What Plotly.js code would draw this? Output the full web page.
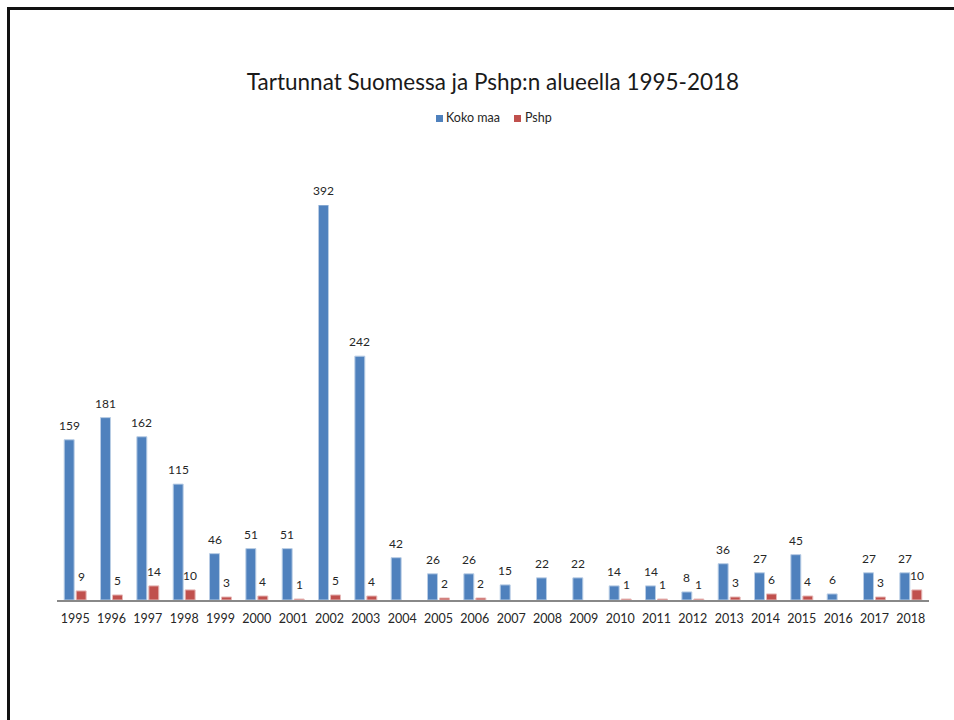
<!DOCTYPE html>
<html>
<head>
<meta charset="utf-8">
<script src="https://cdn.plot.ly/plotly-3.0.1.min.js"></script>
<style>
  html, body { margin: 0; padding: 0; background: #fff; }
  #wrap { position: relative; width: 954px; height: 720px; overflow: hidden; }
  #chart { position: absolute; left: 0; top: 0; width: 954px; height: 720px; }
  #frame { position: absolute; left: 7px; top: 7px; width: 1000px; height: 800px;
           border-left: 3px solid #111; border-top: 3px solid #111; pointer-events: none; }
</style>
</head>
<body>
<div id="wrap">
  <div id="chart"></div>
  <div id="frame"></div>
</div>
<script>
const years = ["1995","1996","1997","1998","1999","2000","2001","2002","2003","2004","2005","2006",
               "2007","2008","2009","2010","2011","2012","2013","2014","2015","2016","2017","2018"];
const kokoMaa = [159,181,162,115,46,51,51,392,242,42,26,26,15,22,22,14,14,8,36,27,45,6,27,27];
const pshp    = [9,5,14,10,3,4,1,5,4,null,2,2,null,null,null,1,1,1,3,6,4,null,3,10];
const seriesNames = ["Koko maa", "Pshp"];
const titleText = "Tartunnat Suomessa ja Pshp:n alueella 1995-2018";

const FONT = "Lato, 'Open Sans', sans-serif";
const BLUE = "#4f81bd", RED = "#c0504d";
const COLORS = [BLUE, RED];

const traces = [
  { type: "bar", name: seriesNames[0], x: years, y: kokoMaa, showlegend: false,
    marker: { color: BLUE, line: { color: "#b9cde5", width: 1 } }, hoverinfo: "x+y" },
  { type: "bar", name: seriesNames[1], x: years, y: pshp, showlegend: false,
    marker: { color: RED, line: { color: "#e6b9b8", width: 1 } }, hoverinfo: "x+y" }
];

const annotations = [];
function addLabels(vals, shift) {
  vals.forEach((v, i) => {
    if (v === null || v === undefined) return;
    annotations.push({ x: i, y: v, xref: "x", yref: "y", text: String(v),
      showarrow: false, xanchor: "center", yanchor: "bottom", xshift: shift, yshift: 5,
      font: { family: FONT, size: 12, color: "#262626" } });
  });
}
addLabels(kokoMaa, -6);
addLabels(pshp, 6);

// plot-area geometry (pixels) for the hand-made legend
const PL = 57, PR = 929, PT = 205, PB = 600;
const px2x = p => (p - PL) / (PR - PL);
const px2y = p => (PB - p) / (PB - PT);
const legendItems = [{ sq: 436, tx: 444 }, { sq: 514, tx: 523 }];
const shapes = [];
legendItems.forEach((it, k) => {
  shapes.push({ type: "rect", xref: "paper", yref: "paper",
    x0: px2x(it.sq), x1: px2x(it.sq + 7), y0: px2y(122), y1: px2y(115),
    fillcolor: COLORS[k], line: { width: 0 } });
  annotations.push({ xref: "paper", yref: "paper", x: px2x(it.tx), y: px2y(118),
    xanchor: "left", yanchor: "middle", showarrow: false, text: seriesNames[k],
    font: { family: FONT, size: 12.5, color: "#262626" } });
});

const layout = {
  width: 954, height: 720,
  paper_bgcolor: "#ffffff", plot_bgcolor: "#ffffff",
  margin: { l: PL, r: 954 - PR, t: PT, b: 720 - PB },
  font: { family: FONT, color: "#262626" },
  title: { text: titleText, x: 0.5, xanchor: "center", xref: "paper",
           y: 1 - 82/720, yref: "container", yanchor: "middle",
           font: { family: FONT, size: 22.5, color: "#1a1a1a" } },
  showlegend: false,
  barmode: "group", bargap: 0.34, bargroupgap: 0.17,
  xaxis: { type: "category", range: [-0.5, years.length - 0.5],
           showline: true, linecolor: "#888888", linewidth: 2,
           ticks: "", showgrid: false, zeroline: false, ticklabelstandoff: 6,
           tickfont: { family: FONT, size: 12.5, color: "#262626" } },
  yaxis: { range: [0, 392], visible: false, showgrid: false, zeroline: false, fixedrange: true },
  shapes: shapes,
  annotations: annotations
};

Plotly.newPlot("chart", traces, layout, { displayModeBar: false, staticPlot: true });
</script>
</body>
</html>
